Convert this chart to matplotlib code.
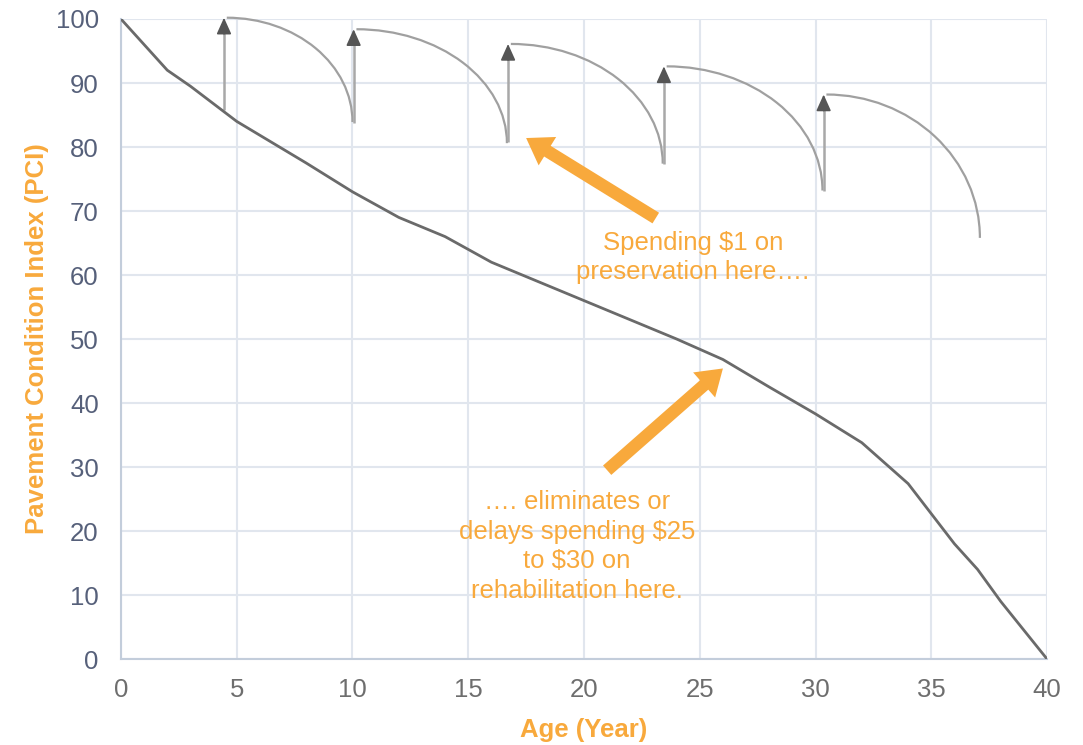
import matplotlib.pyplot as plt
from matplotlib.patches import Arc

plt.rcParams['font.family'] = ['Liberation Sans', 'DejaVu Sans']

# Data
age = [0, 2, 3, 5, 8, 10, 12, 14, 16, 20, 24, 26, 28, 30, 32, 34, 36, 37, 38, 40]
pci = [100, 92, 89.5, 84, 77.5, 73, 69, 66, 62, 56, 50, 46.8, 42.5, 38.3, 33.8, 27.4, 18, 14, 9, 0]

# preservation treatments: jump up, then decay along a quarter curve
treat_age = [4.45, 10.05, 16.72, 23.45, 30.35]
treat_from = [85.8, 83.7, 80.8, 77.4, 73.2]
treat_to = [100.2, 98.4, 96.1, 92.6, 88.2]
arc_end_age = [10.0, 16.67, 23.4, 30.3, 37.1]
arc_end_pci = [83.9, 80.6, 77.4, 73.2, 65.8]

orange = '#F8A93C'

fig = plt.figure(figsize=(10.83, 7.45), dpi=100)
ax = fig.add_axes([0.1117, 0.1154, 0.8551, 0.8591])

ax.plot(age, pci, color='#6a6a6a', lw=2, zorder=4, solid_joinstyle='round')

for i in range(len(treat_age)):
    x0 = treat_age[i]
    ax.vlines(x0, treat_from[i], treat_to[i] - 2, color='#a8a8a8', lw=1.8, zorder=3)
    ax.annotate('', xy=(x0, treat_to[i]), xytext=(x0, treat_to[i] - 2.5),
                arrowprops=dict(arrowstyle='-|>,head_length=1.0,head_width=0.45',
                                color='#555555', lw=1.2, shrinkA=0, shrinkB=0),
                zorder=5, annotation_clip=False)
    xs = x0 + 0.12
    w = 2 * (arc_end_age[i] - xs)
    h = 2 * (treat_to[i] - arc_end_pci[i])
    ax.add_patch(Arc((xs, arc_end_pci[i]), w, h, theta1=0, theta2=90,
                     color='#a0a0a0', lw=1.6, zorder=3, clip_on=False))

# orange callout arrows
ax.annotate('', xy=(17.5, 81.4), xytext=(23.1, 68.9),
            arrowprops=dict(width=9, headwidth=24, headlength=18, color=orange, lw=0),
            zorder=6)
ax.annotate('', xy=(26.0, 45.4), xytext=(21.0, 29.5),
            arrowprops=dict(width=9, headwidth=24, headlength=18, color=orange, lw=0),
            zorder=6)

ax.text(24.7, 62.7, 'Spending $1 on\npreservation here….', color=orange, fontsize=18.5,
        ha='center', va='center', linespacing=1.25, zorder=7)
ax.text(19.7, 17.6, '…. eliminates or\ndelays spending $25\nto $30 on\nrehabilitation here.',
        color=orange, fontsize=18.5, ha='center', va='center', linespacing=1.3, zorder=7)

ax.set_xlim(0, 40)
ax.set_ylim(0, 100)
ax.set_xticks(range(0, 41, 5))
ax.set_yticks(range(0, 101, 10))
ax.grid(True, color='#e1e6ee', lw=1.5)
ax.set_axisbelow(True)
for s in ['top', 'right']:
    ax.spines[s].set_visible(False)
for s in ['left', 'bottom']:
    ax.spines[s].set_color('#c3cddb')
    ax.spines[s].set_linewidth(1.5)
ax.tick_params(length=0)
ax.tick_params(axis='y', labelsize=18.5, labelcolor='#56607a', pad=16)
ax.tick_params(axis='x', labelsize=18.5, labelcolor='#6e6e6e', pad=14)

ax.set_xlabel('Age (Year)', color=orange, fontsize=18.5, fontweight='bold', labelpad=11)
ax.set_ylabel('Pavement Condition Index (PCI)', color=orange, fontsize=18.5,
              fontweight='bold', labelpad=5)

fig.savefig('out.png', dpi=100)
